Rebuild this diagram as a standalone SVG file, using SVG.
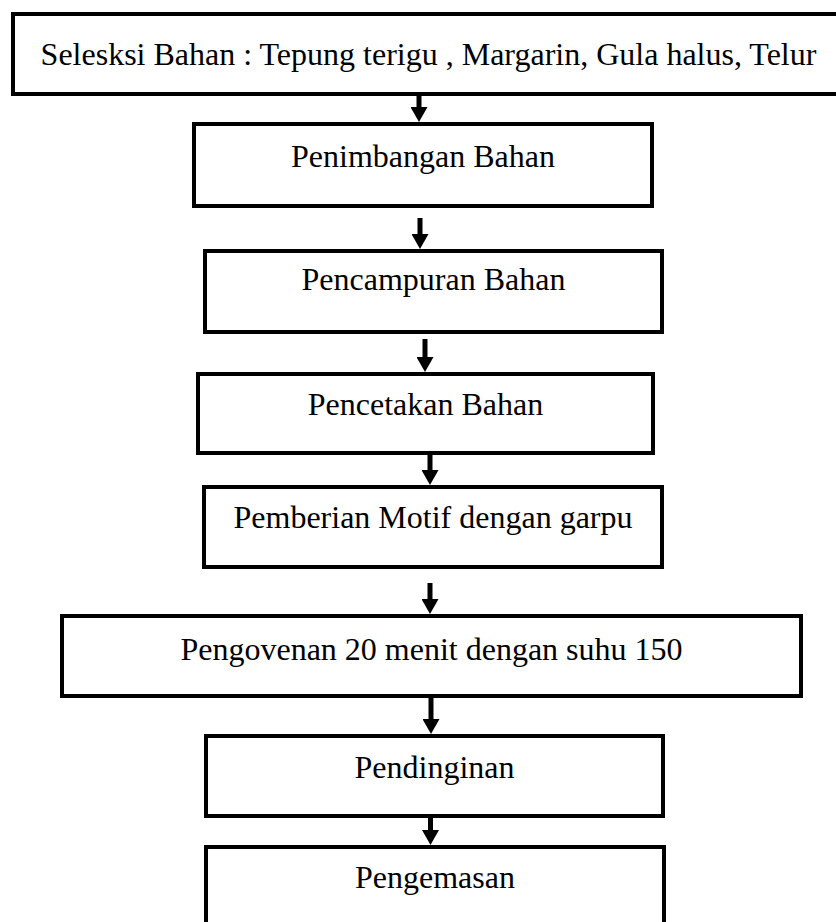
<svg xmlns="http://www.w3.org/2000/svg" width="836" height="922" viewBox="0 0 836 922">
<style>
.box{fill:#fff;stroke:#000;stroke-width:4}
.lbl{font-family:"Liberation Serif","Times New Roman",serif;font-size:32px;fill:#000;text-anchor:middle}
.arr{stroke:#000;stroke-width:5;fill:none}
</style>
<defs>
<marker id="ah" viewBox="0 0 15 17" refX="0" refY="8.5" markerWidth="15" markerHeight="17" orient="auto" markerUnits="userSpaceOnUse">
<path d="M0,0 L15,8.5 L0,17 z" fill="#000"/>
</marker>
</defs>
<rect width="836" height="922" fill="#fff"/>
<g id="n1"><rect class="box" x="13" y="14" width="840" height="80"/><text class="lbl" x="428.5" y="65">Selesksi Bahan : Tepung terigu , Margarin, Gula halus, Telur</text></g>
<g id="n2"><rect class="box" x="194" y="124" width="458" height="82"/><text class="lbl" x="423" y="167">Penimbangan Bahan</text></g>
<g id="n3"><rect class="box" x="205" y="251" width="457" height="81"/><text class="lbl" x="433.5" y="290">Pencampuran Bahan</text></g>
<g id="n4"><rect class="box" x="198" y="374" width="455" height="79"/><text class="lbl" x="425.5" y="415">Pencetakan Bahan</text></g>
<g id="n5"><rect class="box" x="204" y="487" width="458" height="80"/><text class="lbl" x="433" y="528">Pemberian Motif dengan garpu</text></g>
<g id="n6"><rect class="box" x="62" y="616" width="739" height="80"/><text class="lbl" x="431.5" y="660">Pengovenan 20 menit dengan suhu 150</text></g>
<g id="n7"><rect class="box" x="206" y="736" width="457" height="80"/><text class="lbl" x="434.5" y="778">Pendinginan</text></g>
<g id="n8"><rect class="box" x="206" y="847" width="458" height="100"/><text class="lbl" x="435" y="888">Pengemasan</text></g>
<g id="connectors">
<line class="arr" x1="419" y1="96" x2="419" y2="107" marker-end="url(#ah)"/>
<line class="arr" x1="420" y1="218" x2="420" y2="234" marker-end="url(#ah)"/>
<line class="arr" x1="425" y1="339" x2="425" y2="357" marker-end="url(#ah)"/>
<line class="arr" x1="430" y1="455" x2="430" y2="470" marker-end="url(#ah)"/>
<line class="arr" x1="430" y1="583" x2="430" y2="599" marker-end="url(#ah)"/>
<line class="arr" x1="431" y1="698" x2="431" y2="719" marker-end="url(#ah)"/>
<line class="arr" x1="430.5" y1="818" x2="430.5" y2="830" marker-end="url(#ah)"/>
</g>
</svg>
